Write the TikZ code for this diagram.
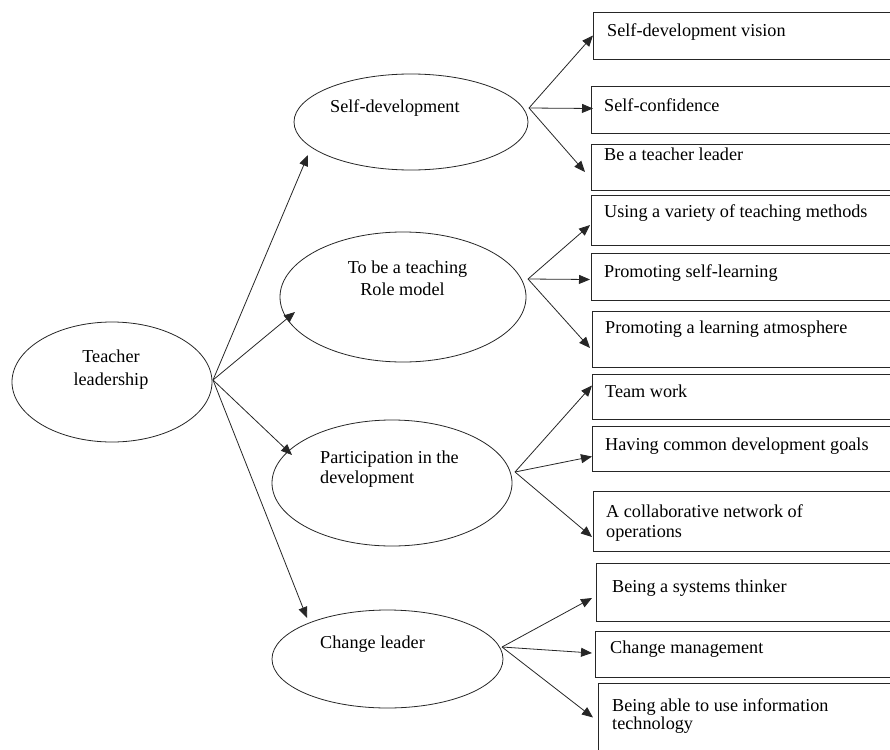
\documentclass[tikz,border=0pt]{standalone}
\usepackage{fontspec}
\setmainfont{Liberation Serif}
\usetikzlibrary{shapes.geometric,arrows.meta}
\begin{document}
\begin{tikzpicture}[x=1pt,y=-1pt,
  ell/.style={draw=black!85, ellipse, line width=0.8pt, inner sep=0pt, outer sep=0pt},
  box/.style={draw=black!85, rectangle, line width=0.8pt, inner sep=0pt, outer sep=0pt, anchor=north west},
  txt/.style={inner sep=0pt, font=\fontsize{18.2}{20}\selectfont},
  arr/.style={draw=black!85, line width=0.8pt, -{Triangle[length=11pt,width=9pt]}}]
\useasboundingbox (0,0) rectangle (890,749);
\clip (0,0) rectangle (890,749);

% ellipses
\node[ell, minimum width=200, minimum height=120] (tl) at (112,382) {};
\node[ell, minimum width=234, minimum height=96]  (sd) at (411,122) {};
\node[ell, minimum width=246, minimum height=130] (rm) at (403,297) {};
\node[ell, minimum width=240, minimum height=126] (pd) at (392,483) {};
\node[ell, minimum width=231, minimum height=98]  (cl) at (387.5,659) {};

% ellipse labels
\node[txt, anchor=base] (tl1) at (111,362) {Teacher};
\node[txt, anchor=base] (tl2) at (111,385) {leadership};
\node[txt, anchor=base west] (sd1) at (330,112) {Self-development};
\node[txt, anchor=base] (rm1) at (407.5,273) {To be a teaching};
\node[txt, anchor=base] (rm2) at (402.5,295) {Role model};
\node[txt, anchor=base west] (pd1) at (320,463) {Participation in the};
\node[txt, anchor=base west] (pd2) at (320,483) {development};
\node[txt, anchor=base west] (cl1) at (320,648) {Change leader};

% boxes (right edges run off the picture)
\node[box, minimum width=330, minimum height=47] (b1)  at (593,12)  {};
\node[box, minimum width=330, minimum height=47] (b2)  at (591,86)  {};
\node[box, minimum width=330, minimum height=46] (b3)  at (591,144) {};
\node[box, minimum width=330, minimum height=50] (b4)  at (591,195) {};
\node[box, minimum width=330, minimum height=47] (b5)  at (591,253) {};
\node[box, minimum width=330, minimum height=56] (b6)  at (592,311) {};
\node[box, minimum width=330, minimum height=45] (b7)  at (592,374) {};
\node[box, minimum width=330, minimum height=45] (b8)  at (592,426) {};
\node[box, minimum width=330, minimum height=60] (b9)  at (593,491) {};
\node[box, minimum width=330, minimum height=58] (b10) at (596,563) {};
\node[box, minimum width=330, minimum height=46] (b11) at (595,631) {};
\node[box, minimum width=330, minimum height=69] (b12) at (598,683) {};

% box labels
\node[txt, anchor=base west] (l1)  at (607,37)  {Self-development vision};
\node[txt, anchor=base west] (l2)  at (604,111) {Self-confidence};
\node[txt, anchor=base west] (l3)  at (604,160) {Be a teacher leader};
\node[txt, anchor=base west] (l4)  at (604,217) {Using a variety of teaching methods};
\node[txt, anchor=base west] (l5)  at (604,277) {Promoting self-learning};
\node[txt, anchor=base west] (l6)  at (605,333) {Promoting a learning atmosphere};
\node[txt, anchor=base west] (l7)  at (605,397) {Team work};
\node[txt, anchor=base west] (l8)  at (605,450) {Having common development goals};
\node[txt, anchor=base west] (l9a) at (606,517) {A collaborative network of};
\node[txt, anchor=base west] (l9b) at (606,537) {operations};
\node[txt, anchor=base west] (l10) at (612,592) {Being a systems thinker};
\node[txt, anchor=base west] (l11) at (610,653) {Change management};
\node[txt, anchor=base west] (l12a) at (612,711) {Being able to use information};
\node[txt, anchor=base west] (l12b) at (612,729) {technology};

% connectors from Teacher leadership
\draw[arr] ([shift={(1,-2)}]tl.east) -- ([shift={(-103,33)}]sd.center);
\draw[arr] ([shift={(1,-2)}]tl.east) -- ([shift={(-108,15)}]rm.center);
\draw[arr] ([shift={(1,-2)}]tl.east) -- ([shift={(-100,-28)}]pd.center);
\draw[arr] ([shift={(1,-2)}]tl.east) -- ([shift={(-80.5,-41)}]cl.center);

% Self-development
\draw[arr] ([shift={(1,-14)}]sd.east) -- (b1.west);
\draw[arr] ([shift={(1,-14)}]sd.east) -- ([shift={(2,-1)}]b2.west);
\draw[arr] ([shift={(1,-14)}]sd.east) -- ([shift={(-6,5)}]b3.west);

% Role model
\draw[arr] ([shift={(2,-18)}]rm.east) -- ([shift={(-1,5)}]b4.west);
\draw[arr] ([shift={(2,-18)}]rm.east) -- ([shift={(-1,3)}]b5.west);
\draw[arr] ([shift={(2,-18)}]rm.east) -- ([shift={(-2,9)}]b6.west);

% Participation
\draw[arr] ([shift={(3,-11)}]pd.east) -- ([shift={(0,-11)}]b7.west);
\draw[arr] ([shift={(3,-11)}]pd.east) -- ([shift={(0,8)}]b8.west);
\draw[arr] ([shift={(3,-11)}]pd.east) -- ([shift={(-1,16)}]b9.west);

% Change leader
\draw[arr] ([shift={(-1,-12)}]cl.east) -- ([shift={(-4,6)}]b10.west);
\draw[arr] ([shift={(-1,-12)}]cl.east) -- ([shift={(-3,-1)}]b11.west);
\draw[arr] ([shift={(-1,-12)}]cl.east) -- ([shift={(-5,0)}]b12.west);
\end{tikzpicture}
\end{document}
